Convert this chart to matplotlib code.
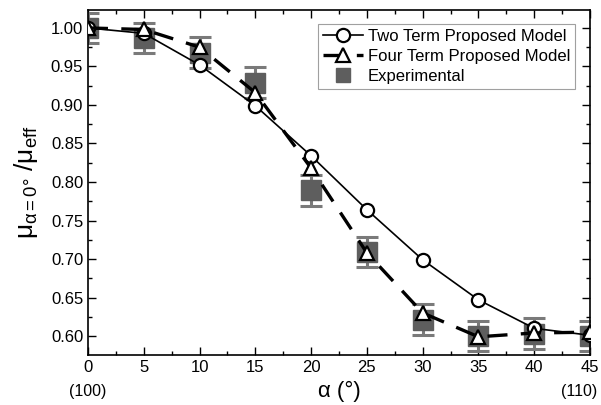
import matplotlib
matplotlib.use("Agg")
import matplotlib.pyplot as plt
from matplotlib.ticker import MultipleLocator
from matplotlib.lines import Line2D
from matplotlib.transforms import offset_copy

alpha = [0, 5, 10, 15, 20, 25, 30, 35, 40, 45]
two_term = [1.000, 0.993, 0.952, 0.899, 0.834, 0.764, 0.699, 0.647, 0.610, 0.601]
four_term = [1.000, 0.998, 0.975, 0.916, 0.818, 0.708, 0.630, 0.599, 0.604, 0.605]
experimental = [1.000, 0.987, 0.968, 0.929, 0.789, 0.709, 0.621, 0.600, 0.603, 0.600]
exp_err = [0.020, 0.020, 0.020, 0.020, 0.020, 0.020, 0.020, 0.020, 0.020, 0.020]
xticks = [0, 5, 10, 15, 20, 25, 30, 35, 40, 45]
yticks = [0.60, 0.65, 0.70, 0.75, 0.80, 0.85, 0.90, 0.95, 1.00]

plt.rcParams['font.family'] = ['Liberation Sans', 'DejaVu Sans']
plt.rcParams['mathtext.fontset'] = 'custom'
plt.rcParams['mathtext.rm'] = 'Liberation Sans'
plt.rcParams['mathtext.it'] = 'Liberation Sans'

fig = plt.figure(figsize=(6.01, 4.05), dpi=100)
ax = fig.add_axes([0.1464, 0.1235, 0.8353, 0.8518])

ax.errorbar(alpha, experimental, yerr=exp_err, fmt='s', color='#5e5e5e',
            markersize=14, ecolor='#7a7a7a', elinewidth=2.2, capsize=8,
            capthick=2.2, zorder=2)
ax.plot(alpha, two_term, '-', color='black', lw=1.2, marker='o', markersize=9.5,
        markerfacecolor='white', markeredgecolor='black', markeredgewidth=1.6,
        zorder=3)
ax.plot(alpha, four_term, color='black', lw=2.4, dashes=(6, 4), marker='^',
        markersize=10.5, markerfacecolor='white', markeredgecolor='black',
        markeredgewidth=1.6, zorder=4)

ax.set_xlim(0, 45)
ax.set_ylim(0.5754, 1.0233)
ax.set_xticks(xticks)
ax.set_yticks(yticks)
ax.set_yticklabels([f'{v:.2f}' for v in yticks])
ax.xaxis.set_minor_locator(MultipleLocator(2.5))
ax.yaxis.set_minor_locator(MultipleLocator(0.025))
ax.tick_params(which='both', direction='in', top=True, right=True, labelsize=12,
               width=1.0)
ax.tick_params(which='major', length=6)
ax.tick_params(which='minor', length=3)
for s in ax.spines.values():
    s.set_linewidth(1.2)

ax.set_xlabel('α (°)', fontsize=16, labelpad=4)
ax.set_ylabel(r'$\mu_{\alpha\mathregular{=0°}}\ /\mu_{\mathregular{eff}}$', fontsize=19, labelpad=8)

xt = ax.get_xaxis_transform()
ax.text(0, -0.105, '(100)', transform=xt, ha='center', va='center', fontsize=11.5)
ax.text(45, -0.105, '(110)', transform=offset_copy(xt, fig=fig, x=-11, y=0, units='dots'),
        ha='center', va='center', fontsize=11.5, clip_on=False)

handles = [
    Line2D([], [], color='black', lw=1.2, marker='o', markersize=9.5,
           markerfacecolor='white', markeredgecolor='black', markeredgewidth=1.6),
    Line2D([], [], color='black', lw=2.4, dashes=(6, 4), marker='^', markersize=10.5,
           markerfacecolor='white', markeredgecolor='black', markeredgewidth=1.6),
    Line2D([], [], ls='none', marker='s', markersize=10, color='#5e5e5e'),
]
labels = ['Two Term Proposed Model', 'Four Term Proposed Model', 'Experimental']
leg = ax.legend(handles, labels, loc='upper right', bbox_to_anchor=(0.970, 0.959),
                fontsize=12, frameon=True, fancybox=False, edgecolor='#888888',
                handlelength=2.4, handletextpad=0.3, borderpad=0.3,
                labelspacing=0.3, borderaxespad=0.0)
leg.get_frame().set_linewidth(0.8)

fig.savefig('out.png', dpi=100)
